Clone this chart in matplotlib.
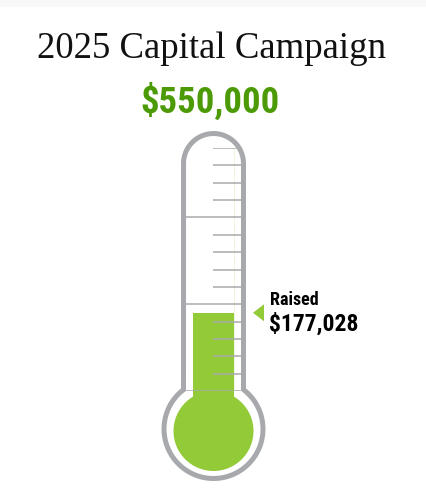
import matplotlib
matplotlib.use("Agg")
import matplotlib.pyplot as plt
import numpy as np
from matplotlib.patches import Circle, PathPatch
from matplotlib.path import Path

titulo = "2025 Capital Campaign"
meta = 550000
recaudado = 177028
etiqueta = "Raised"
pasos = 14          # marcas menores en la escala
cada_mayor = 5      # una linea completa cada 5 pasos

gris = "#a7a9ac"
verde = "#93cb38"
verde_oscuro = "#4b9a06"
angosta = ["Liberation Sans Narrow", "Roboto Condensed", "Roboto", "DejaVu Sans"]

fig = plt.figure(figsize=(4.27, 4.89), dpi=100)

# Fondo en pixeles para el dibujo del termometro.
fondo = fig.add_axes([0, 0, 1, 1])
fondo.set_xlim(0, 427)
fondo.set_ylim(489, 0)
fondo.axis("off")
fondo.axhspan(0, 8, color="#f8f8f8", lw=0)

cx = 213.5
izq, der = 183.5, 243.5
r_tubo = (der - izq) / 2
y_arco = 164.5
cy_bulbo, r_anillo = 430.0, 49.5
dy = np.sqrt(r_anillo**2 - r_tubo**2)
a = np.degrees(np.arctan2(dy, r_tubo))

t_top = np.radians(np.linspace(180, 0, 60))
t_bul = np.radians(np.linspace(a, 180 - a - 360, 160))
xs = np.concatenate([[izq], cx + r_tubo * np.cos(t_top), [der],
                     cx + r_anillo * np.cos(t_bul)])
ys = np.concatenate([[cy_bulbo - dy], y_arco - r_tubo * np.sin(t_top), [cy_bulbo - dy],
                     cy_bulbo - r_anillo * np.sin(t_bul)])
contorno = Path(np.column_stack([xs, ys]))
fondo.add_patch(PathPatch(contorno, fill=False, ec=gris, lw=3.6, joinstyle="round",
                          capstyle="round"))
fondo.add_patch(Circle((cx, 432), 40, color=verde, lw=0))

fondo.text(212, 58, titulo, ha="center", va="baseline", fontsize=26.5,
           family=["Liberation Serif", "DejaVu Serif"], color="#111111")
fondo.text(210.5, 113, f"${meta:,}", ha="center", va="baseline", fontsize=26.5,
           fontweight="bold", family=angosta, color=verde_oscuro)

# Escala en dolares alineada con el tubo.
ax = fig.add_axes([181 / 427, (489 - 392) / 489, 65 / 427, 243 / 489])
ax.set_xlim(181, 246)
ax.set_ylim(0, meta)
ax.axis("off")

ax.axvline(234, color="#eef4dc", lw=0.7, zorder=0)
ax.bar(213.5, recaudado + 0.2 * meta, bottom=-0.2 * meta, width=41, color=verde,
       lw=0, clip_on=False, zorder=1)

for k in range(pasos + 1):
    v = meta * k / pasos
    if k % cada_mayor == 0:
        ax.hlines(v, 186, 241, color=gris, lw=1.1, zorder=2)
    else:
        ax.hlines(v, 213, 241, color=gris, lw=1.1, zorder=2)

pix = meta / 243
ax.fill([253, 264, 264], [recaudado, recaudado + 8.5 * pix, recaudado - 8.5 * pix],
        color=verde, lw=0, clip_on=False)
ax.annotate(etiqueta, (270, recaudado), xytext=(0, 9), textcoords="offset pixels",
            ha="left", va="baseline", fontsize=13, fontweight="bold", family=angosta,
            color="black", annotation_clip=False)
ax.annotate(f"${recaudado:,}", (269, recaudado), xytext=(0, -17), textcoords="offset pixels",
            ha="left", va="baseline", fontsize=17, fontweight="bold", family=angosta,
            color="black", annotation_clip=False)

fig.savefig("out.png", dpi=100)
